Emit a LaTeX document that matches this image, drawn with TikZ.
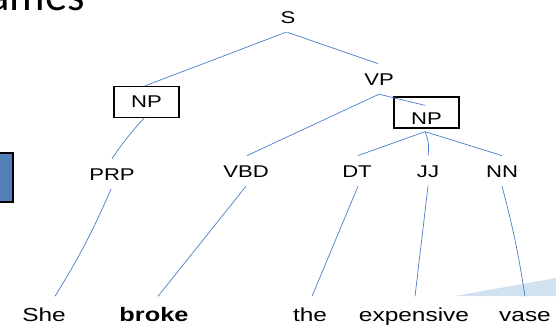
\documentclass[tikz,border=0pt]{standalone}
\usepackage{fontspec}
\newfontfamily\treefont[FakeStretch=1.3]{Liberation Sans}
\newfontfamily\titlefont{Carlito}
\definecolor{branchblue}{RGB}{74,124,201}
\definecolor{sideblue}{RGB}{82,128,184}
\definecolor{wedgeblue}{RGB}{208,225,240}
\tikzset{
  branch/.style={draw=branchblue, line width=0.7pt},
  cat/.style={font=\treefont\fontsize{17}{20}\selectfont, inner xsep=0pt,
    inner ysep=9pt, text height=12.2pt, text depth=0pt, anchor=base},
  word/.style={font=\treefont\fontsize{18.8}{22}\selectfont, inner xsep=0pt,
    inner ysep=11pt, text height=13.5pt, text depth=0pt, anchor=base},
  npbox/.style={draw=black, line width=1.3pt, minimum width=65pt,
    minimum height=31pt, inner sep=0pt, font=\treefont\fontsize{17}{20}\selectfont},
}
\begin{document}
\begin{tikzpicture}[x=1pt, y=-1pt]
\useasboundingbox (0,0) rectangle (556,325);

% slide remnants cut by the frame edge
\begin{scope}
  \clip (0,0) rectangle (556,325);
  \node[font=\titlefont\fontsize{44.5}{50}\selectfont, inner sep=0pt, anchor=base west]
    (title) at (-12,10) {ames};
  \draw[line width=2pt, fill=sideblue] (-20,153) rectangle (12.5,202);
  \fill[wedgeblue] (455,296) -- (556,278) -- (556,296) -- cycle;
\end{scope}

% category labels
\node[cat] (S)   at (288,23)  {S};
\node[cat] (VP)  at (379,85)  {VP};
\node[cat] (PRP) at (112,180) {PRP};
\node[cat] (VBD) at (246,177) {VBD};
\node[cat] (DT)  at (357,177) {DT};
\node[cat] (JJ)  at (428,177) {JJ};
\node[cat] (NN)  at (502,177) {NN};

% boxed noun phrases
\node[npbox] (NP1) at (146.5,102) {NP};
\node[npbox, text height=24pt, text depth=0pt] (NP2) at (426.5,112.5) {NP};

% words
\node[word] (She)       at (44,321)  {She};
\node[word, font=\treefont\bfseries\fontsize{19.5}{22}\selectfont] (broke) at (154,321) {broke};
\node[word] (the)       at (310,321) {the};
\node[word] (expensive) at (414,321) {expensive};
\node[word] (vase)      at (525,321) {vase};

% branches
\draw[branch] ([xshift=-2pt]S.south) -- ([xshift=-1.5pt]NP1.north);
\draw[branch] ([xshift=-1pt]S.south) -- ([xshift=-1pt]VP.north);
\draw[branch] (VP.south) -- ([xshift=1pt]VBD.north);
\draw[branch] (VP.south) -- ([xshift=-1.5pt,yshift=-9pt]NP2.north);
\draw[branch] ([xshift=-2.5pt]NP1.south) to[bend right=4] (PRP.north);
\draw[branch] ([xshift=-1pt]PRP.south) to[bend left=4] ([xshift=11pt]She.north);
\draw[branch] (VBD.south) -- ([xshift=4pt]broke.north);
\draw[branch] ([xshift=-1.5pt,yshift=-3pt]NP2.south) -- ([xshift=1pt]DT.north);
\draw[branch] ([xshift=-1.5pt,yshift=-3pt]NP2.south) to[bend left=15] (JJ.north);
\draw[branch] ([xshift=-1.5pt,yshift=-3pt]NP2.south) -- (NN.north);
\draw[branch] ([xshift=1pt]DT.south) -- ([xshift=2pt]the.north);
\draw[branch] (JJ.south) -- ([xshift=1pt]expensive.north);
\draw[branch] (NN.south) to[bend left=3] (vase.north);
\end{tikzpicture}
\end{document}
